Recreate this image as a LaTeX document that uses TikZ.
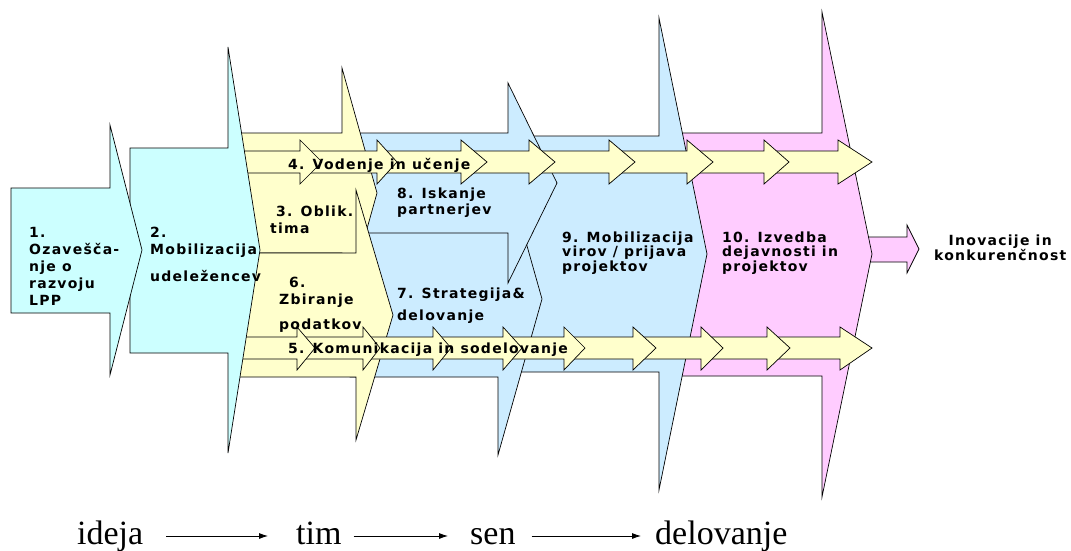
\documentclass[tikz,border=0pt]{standalone}
\usepackage{fontspec}
\setmainfont{Liberation Serif}
\newfontfamily\vfont{DejaVu Sans Bold}[LetterSpace=9]
\usetikzlibrary{arrows.meta,calc}
\definecolor{cyanf}{HTML}{CCFFFF}
\definecolor{yellowf}{HTML}{FFFFCC}
\definecolor{bluef}{HTML}{CCECFF}
\definecolor{pinkf}{HTML}{FFCCFF}
\newcommand\lbl[2]{\vtop{\baselineskip=#1\lineskiplimit=-100pt\lineskip=0pt\relax#2}}
\begin{document}
\begin{tikzpicture}[x=1pt,y=-1pt,
  shp/.style={draw=black,line width=0.7pt,line join=miter},
  stripar/.style={shp,fill=yellowf},
  lab/.style={inner sep=0pt,anchor=base west,font=\vfont\fontsize{14}{17}\selectfont},
  btm/.style={inner sep=0pt,anchor=base west,font=\fontsize{34}{40}\selectfont},
  flow/.style={line width=0.8pt,-{Latex[length=9pt,width=6pt]}}]
\useasboundingbox (0,0) rectangle (1071,551);
% output arrow
\draw[shp,fill=pinkf] (860,237)--(907,237)--(907,225)--(919,249)--(907,273)--(907,262)--(860,262)--cycle;
% 10
\draw[shp,fill=pinkf] (665,133)--(822,133)--(822,12)--(872,254)--(822,497)--(822,376)--(665,376)--cycle;
% 9
\draw[shp,fill=bluef] (480,136)--(659,136)--(659,18)--(707,254)--(659,490)--(659,372)--(480,372)--cycle;
% 7
\draw[shp,fill=bluef] (350,221)--(498,221)--(498,143)--(542,299)--(498,455)--(498,377)--(350,377)--cycle;
% 8
\draw[shp,fill=bluef] (345,133)--(508,133)--(508,83)--(557,183)--(508,283)--(508,233)--(345,233)--cycle;
% 3
\draw[shp,fill=yellowf] (235,133)--(342,133)--(342,68)--(377,193)--(342,318)--(342,253)--(235,253)--cycle;
% 6
\draw[shp,fill=yellowf] (235,253)--(356,253)--(356,190)--(393,315)--(356,440)--(356,377)--(235,377)--cycle;
% strip 4
\foreach \s/\b/\t in {767/838/872,690/764/789,612/687/713,532/609/635,464/529/555,380/461/487,303/377/397,235/300/322}
  \draw[stripar] (\s,151)--(\b,151)--(\b,140)--(\t,162)--(\b,184)--(\b,173)--(\s,173)--cycle;
% strip 5
\foreach \s/\b/\t in {770/840/872,704/767/790,636/701/723,567/633/656,506/564/585,436/503/522,366/433/451,300/363/380,235/297/315}
  \draw[stripar] (\s,337)--(\b,337)--(\b,327)--(\t,348)--(\b,370)--(\b,359)--(\s,359)--cycle;
% 2
\draw[shp,fill=cyanf] (130,148)--(228,148)--(228,47)--(260,250)--(228,453)--(228,353)--(130,353)--cycle;
% 1
\draw[shp,fill=cyanf] (11,188)--(110,188)--(110,125)--(142,250)--(110,375)--(110,313)--(11,313)--cycle;
% labels
\node[lab] (t1) at (29,237) {\lbl{17.2pt}{\hbox{1.}\hbox{Ozavešča-}\hbox{nje o}\hbox{razvoju}\hbox{LPP}}};
\node[lab] (t2) at (150,237) {\lbl{17pt}{\hbox{2.}\hbox{Mobilizacija}\vskip10pt\hbox{udeležencev}}};
\node[lab] (t3) at (270,216) {\lbl{17pt}{\hbox{\kern6pt 3. Oblik.}\hbox{tima}}};
\node[lab] (t6) at (279,287) {\lbl{17pt}{\hbox{\kern10pt 6.}\hbox{Zbiranje}\vskip8pt\hbox{podatkov}}};
\node[lab] (t4) at (288,169) {4. Vodenje in učenje};
\node[lab] (t5) at (288,353) {5. Komunikacija in sodelovanje};
\node[lab] (t8) at (397,198) {\lbl{16pt}{\hbox{8. Iskanje}\hbox{partnerjev}}};
\node[lab] (t7) at (397,298) {\lbl{22pt}{\hbox{7. Strategija\&}\hbox{delovanje}}};
\node[lab] (t9) at (562,242) {\lbl{14.5pt}{\hbox{9. Mobilizacija}\hbox{virov / prijava}\hbox{projektov}}};
\node[lab] (t10) at (722,242) {\lbl{14.5pt}{\hbox{10. Izvedba}\hbox{dejavnosti in}\hbox{projektov}}};
\node[lab] (tI) at (933,245) {\lbl{15pt}{\hbox to 134pt{\hfil Inovacije in\hfil}\hbox to 134pt{\hfil konkurenčnost\hfil}}};
% bottom line
\node[btm] (ideja) at (77,544) {ideja};
\node[btm] (tim) at (296,544) {tim};
\node[btm] (sen) at (470,544) {sen};
\node[btm] (delo) at (655,544) {delovanje};
\draw[flow,shorten <=23pt,shorten >=28pt] ([yshift=8pt]ideja.base east) -- ([yshift=8pt]tim.base west);
\draw[flow,shorten <=12pt,shorten >=22pt] ([yshift=8pt]tim.base east) -- ([yshift=8pt]sen.base west);
\draw[flow,shorten <=16pt,shorten >=14pt] ([yshift=8pt]sen.base east) -- ([yshift=8pt]delo.base west);
\end{tikzpicture}
\end{document}
